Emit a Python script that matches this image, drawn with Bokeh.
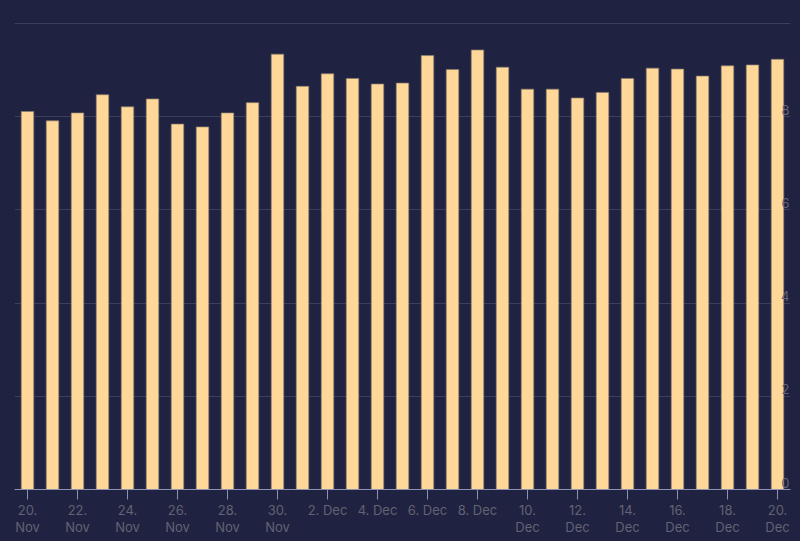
import pandas as pd
from bokeh.plotting import figure
from bokeh.models import FixedTicker, ColumnDataSource
from bokeh.core.properties import value
from bokeh.embed import file_html
from bokeh.resources import INLINE

# ---- data ----
start_date = "2023-11-20"
end_date = "2023-12-20"
values = [8.11, 7.91, 8.08, 8.47, 8.21, 8.38, 7.84, 7.78, 8.08, 8.30, 9.34,
          8.65, 8.92, 8.82, 8.70, 8.72, 9.31, 9.01, 9.43, 9.06, 8.59,
          8.59, 8.40, 8.52, 8.82, 9.04, 9.02, 8.87, 9.09, 9.11, 9.23]
y_ticks = [0, 2, 4, 6, 8, 10]
y_labels = ["0", "2", "4", "6", "8", ""]

dates = pd.date_range(start_date, end_date, freq="D")
idx = list(range(len(dates)))

x_tick_pos = idx[::2]
x_labels = {}
for i in x_tick_pos:
    d = dates[i]
    mon = d.strftime("%b")
    x_labels[i] = f"{d.day}.\n{mon}" if d.day >= 10 else f"{d.day}. {mon}"

BG = "#1f2240"
BAR = "#ffd899"
LABEL = "#626374"
AXIS = "#8d93b0"
GRID = "#3b3e5d"
FONT = "Inter"

x_start = -0.52
x_end = len(dates) - 1 + 0.52

p = figure(width=800, height=541, output_backend="svg", toolbar_location=None,
           x_range=(x_start, x_end), y_range=(0, 10.02),
           y_axis_location=None, background_fill_color=BG, border_fill_color=BG,
           min_border_left=14, min_border_right=10, min_border_top=22, min_border_bottom=52)
p.outline_line_color = None

src = ColumnDataSource(dict(x=idx, top=values))
p.vbar(x="x", top="top", width=0.5, source=src, fill_color=BAR,
       line_color="#8a7f6c", line_width=1, line_alpha=0.7)

p.xgrid.visible = False
p.ygrid.ticker = FixedTicker(ticks=y_ticks)
p.ygrid.grid_line_color = GRID
p.ygrid.grid_line_width = 1

ax = p.xaxis[0]
ax.ticker = FixedTicker(ticks=x_tick_pos)
ax.major_label_overrides = x_labels
ax.axis_line_color = AXIS
ax.axis_line_width = 1
ax.major_tick_line_color = AXIS
ax.major_tick_in = 0
ax.major_tick_out = 10
ax.minor_tick_line_color = None
ax.major_label_standoff = 2
ax.major_label_text_font = FONT
ax.major_label_text_font_size = "13px"
ax.major_label_text_line_height = 1.1
ax.major_label_text_color = LABEL

lab_src = ColumnDataSource(dict(x=[x_end] * (len(y_ticks) - 1), y=y_ticks[:-1], t=y_labels[:-1]))
p.text(x="x", y="y", text="t", source=lab_src, text_align="right", text_baseline="bottom",
       x_offset=-1, y_offset=-2, text_font=value(FONT), text_font_size="13px",
       text_color=LABEL)

html = file_html(p, INLINE)
html = html.replace("</head>", f"<style>body{{background:{BG};}}</style></head>", 1)
open("out.html", "w").write(html)
